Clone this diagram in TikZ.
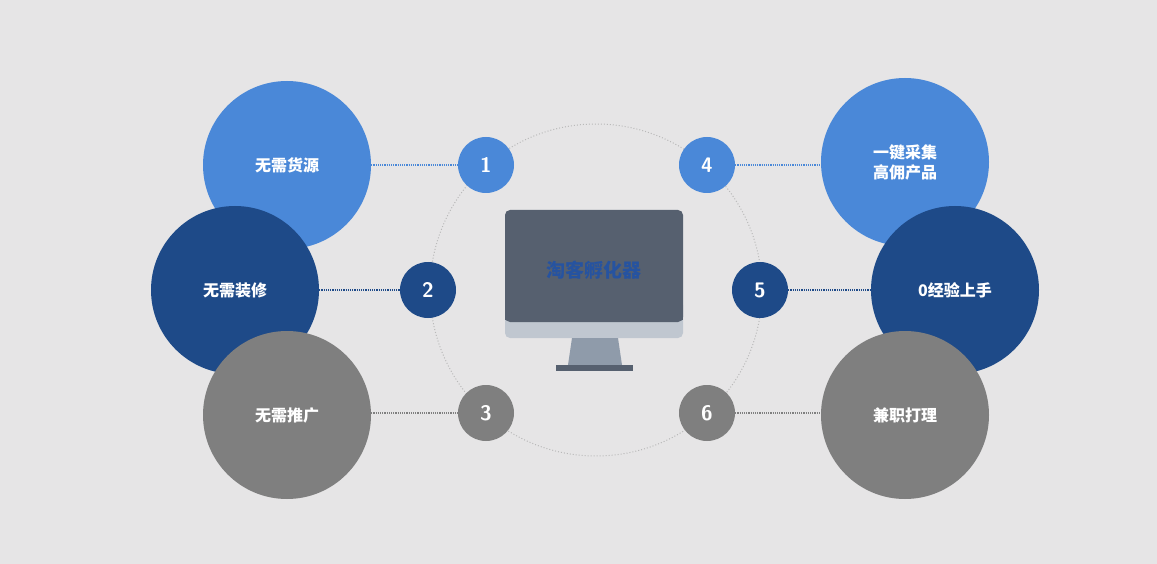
\documentclass[tikz,border=0pt]{standalone}
\usepackage{fontspec}
\newfontfamily\cjk{Noto Sans CJK SC}
\definecolor{bg}{HTML}{E6E5E6}
\definecolor{lb}{HTML}{4A88D8}
\definecolor{db}{HTML}{1E4A88}
\definecolor{gr}{HTML}{7F7F7F}
\definecolor{scr}{HTML}{56606F}
\definecolor{band}{HTML}{C0C7D0}
\definecolor{stand}{HTML}{8F9BAA}
\definecolor{ttl}{HTML}{2653A0}
\tikzset{
 big/.style={circle,minimum size=168pt,inner sep=0,text=white,font=\cjk\bfseries\fontsize{16}{20}\selectfont,align=center},
 num/.style={circle,minimum size=56pt,inner sep=0,text=white,font=\sffamily\bfseries\fontsize{21}{21}\selectfont},
 link/.style={densely dotted,line width=1.2pt}
}
\begin{document}
\begin{tikzpicture}[x=1pt,y=-1pt]
\fill[bg] (0,0) rectangle (1157,564);
\useasboundingbox (0,0) rectangle (1157,564);
\node[circle,draw=gray!55,dotted,line width=1pt,minimum size=332pt] (ring) at (596,290) {};
% left
\node[big,fill=lb] (a) at (287,165) {无需货源};
\node[big,fill=db] (b) at (235,290) {无需装修};
\node[big,fill=gr] (c) at (287,415) {无需推广};
% right
\node[big,fill=lb] (d) at (905,162) {一键采集\\高佣产品};
\node[big,fill=db] (e) at (955,290) {0经验上手};
\node[big,fill=gr] (f) at (905,415) {兼职打理};
% small
\node[num,fill=lb] (n1) at (486,165) {1};
\node[num,fill=db] (n2) at (428,290) {2};
\node[num,fill=gr] (n3) at (486,413) {3};
\node[num,fill=lb] (n4) at (707,165) {4};
\node[num,fill=db] (n5) at (760,290) {5};
\node[num,fill=gr] (n6) at (707,413) {6};
\draw[link,lb] (a.east |- n1) -- (n1.west);
\draw[link,db] (b.east |- n2) -- (n2.west);
\draw[link,gr] (c.east |- n3) -- (n3.west);
\draw[link,lb] (n4.east) -- (d.west |- n4);
\draw[link,db] (n5.east) -- (e.west |- n5);
\draw[link,gr] (n6.east) -- (f.west |- n6);
% monitor
\fill[band,rounded corners=5pt] (505,300) rectangle (683,338);
\fill[scr,rounded corners=5pt] (505,210) rectangle (683,322);
\fill[scr] (505,300) rectangle (683,320);
\fill[stand] (572,338) -- (618,338) -- (622,365) -- (568,365) -- cycle;
\fill[scr] (556,365) rectangle (633,371);
\node[text=ttl,font=\cjk\bfseries\fontsize{19}{19}\selectfont] (t) at (594,270) {淘客孵化器};
\end{tikzpicture}
\end{document}
